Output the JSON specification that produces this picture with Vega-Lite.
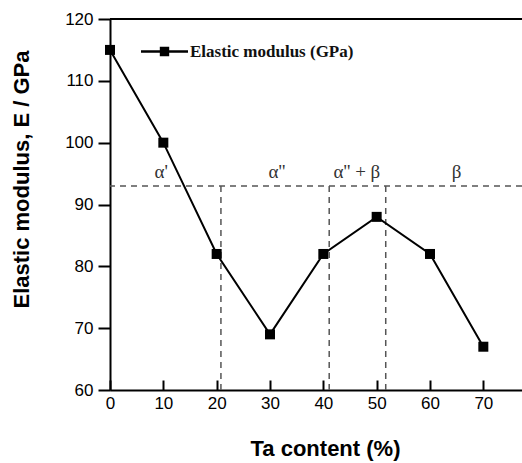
{
  "$schema": "https://vega.github.io/schema/vega-lite/v6.json",
  "autosize": "none",
  "width": 412,
  "height": 371,
  "padding": {"left": 110, "top": 19, "right": 0, "bottom": 73},
  "background": "white",
  "config": {
    "view": {"stroke": null},
    "axis": {
      "domainColor": "black", "domainWidth": 2, "tickColor": "black", "tickWidth": 2,
      "grid": false, "labelFont": "Liberation Sans", "labelFontSize": 17, "labelColor": "black",
      "titleFont": "Liberation Sans", "titleFontSize": 22, "titleFontWeight": "bold", "titleColor": "black"
    },
    "legend": {
      "symbolType": "M-1,-0.05H1V0.05H-1Z M-0.2,-0.2H0.2V0.2H-0.2Z",
      "symbolSize": 2209, "symbolFillColor": "black", "symbolStrokeWidth": 0,
      "labelFont": "Liberation Serif", "labelFontSize": 17, "labelFontWeight": "bold", "labelColor": "#111",
      "labelOffset": 2, "padding": 0, "labelLimit": 400
    }
  },
  "layer": [
    {
      "data": {"values": [{"y": 120}]},
      "mark": {"type": "rule", "color": "black", "strokeWidth": 2},
      "encoding": {"y": {"field": "y", "type": "quantitative"}}
    },
    {
      "data": {"values": [{"y": 93}]},
      "mark": {"type": "rule", "color": "#555", "strokeWidth": 1.5, "strokeDash": [6, 5]},
      "encoding": {"y": {"field": "y", "type": "quantitative"}}
    },
    {
      "data": {"values": [
        {"x": 20.8, "y": 60, "y2": 93.6},
        {"x": 41.1, "y": 60, "y2": 93.6},
        {"x": 51.7, "y": 60, "y2": 93.6}
      ]},
      "mark": {"type": "rule", "color": "#555", "strokeWidth": 1.5, "strokeDash": [6, 5]},
      "encoding": {
        "x": {"field": "x", "type": "quantitative"},
        "y": {"field": "y", "type": "quantitative"},
        "y2": {"field": "y2"}
      }
    },
    {
      "data": {"values": [
        {"x": 9.6, "y": 95.3, "t": "α'"},
        {"x": 31.3, "y": 95.3, "t": "α''"},
        {"x": 46.3, "y": 95.3, "t": "α'' + β"},
        {"x": 65, "y": 95.3, "t": "β"}
      ]},
      "mark": {"type": "text", "font": "Liberation Serif", "fontSize": 19, "color": "#333"},
      "encoding": {
        "x": {"field": "x", "type": "quantitative"},
        "y": {"field": "y", "type": "quantitative"},
        "text": {"field": "t"}
      }
    },
    {
      "data": {"values": [
        {"ta": 0, "e": 115}, {"ta": 10, "e": 100}, {"ta": 20, "e": 82}, {"ta": 30, "e": 69},
        {"ta": 40, "e": 82}, {"ta": 50, "e": 88}, {"ta": 60, "e": 82}, {"ta": 70, "e": 67}
      ]},
      "mark": {"type": "line", "strokeWidth": 2, "point": {"shape": "square", "size": 100, "filled": true, "color": "black", "opacity": 1}},
      "encoding": {
        "x": {
          "field": "ta", "type": "quantitative",
          "scale": {"domain": [0, 77.25], "nice": false, "zero": false},
          "title": "Ta content (%)",
          "axis": {
            "values": [0, 5, 10, 15, 20, 25, 30, 35, 40, 45, 50, 55, 60, 65, 70, 75],
            "labelExpr": "datum.value % 10 === 0 ? datum.label : ''",
            "labelFlush": false,
            "tickSize": {"condition": {"test": "datum.value % 10 === 0", "value": -10}, "value": -6},
            "labelPadding": 15, "titleY": 48, "titleX": 215
          }
        },
        "y": {
          "field": "e", "type": "quantitative",
          "scale": {"domain": [60, 120], "nice": false, "zero": false},
          "title": "Elastic modulus, E / GPa",
          "axis": {
            "values": [60, 65, 70, 75, 80, 85, 90, 95, 100, 105, 110, 115, 120],
            "labelExpr": "datum.value % 10 === 0 ? datum.label : ''",
            "labelFlush": false,
            "tickSize": {"condition": {"test": "datum.value % 10 === 0", "value": 12}, "value": 7},
            "labelPadding": 5, "titleX": -77, "titleY": 160
          }
        },
        "color": {
          "datum": "Elastic modulus (GPa)",
          "type": "nominal",
          "scale": {"range": ["black"]},
          "legend": {"title": null, "orient": "none", "legendX": 31, "legendY": 9}
        }
      }
    }
  ]
}
